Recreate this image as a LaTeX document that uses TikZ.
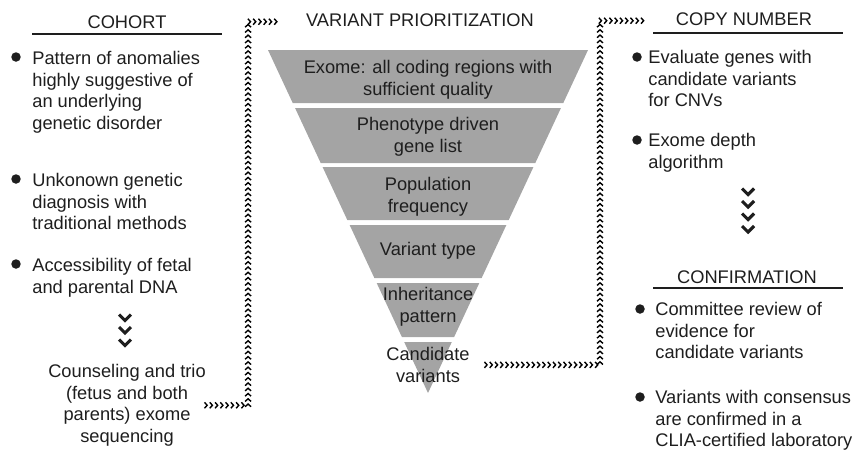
\documentclass[tikz,border=0pt]{standalone}
\usepackage{fontspec}
\setmainfont{Liberation Sans}
\usepackage{tikz}
\usetikzlibrary{arrows.meta}
\usetikzlibrary{decorations.markings}
\definecolor{inkgray}{HTML}{1E1E1E}
\definecolor{funnelgray}{HTML}{A4A4A4}
\definecolor{chevgray}{HTML}{303030}

\begin{document}
\begin{tikzpicture}
    [
    x=0.02cm, y=-0.02cm,
    every node/.style = {font=\fontsize{10.4}{12.3}\selectfont, text=inkgray, inner sep=0pt},
    dot/.style = {minimum size=0.19cm, inner sep=0pt, fill=inkgray, circle},
    item/.style = {anchor=north west, align=left},
    stage/.style = {anchor=north, align=center},
    title/.style = {anchor=base},
    band/.style = {fill=funnelgray},
    rule/.style = {draw=inkgray, line width=0.6pt},
    bigchev/.style = {draw=inkgray, line width=1.8pt, line join=miter},
    chev/.style = {decorate, draw=chevgray, decoration={markings, mark=between positions 0 and 1 step 3pt with {\arrow{Straight Barb[length=1.5pt,width=3.4pt,line width=0.8pt]}}}}
    ]
\useasboundingbox (0,0) rectangle (857,450);

\node[title] (cohort) at (127,28) {COHORT};
\draw[rule] (32,34) -- (222,34);
\node[dot] (b1) at (16,57) {};
\node[item] (pattern) at (32,51) {Pattern of anomalies\\highly suggestive of\\an underlying\\genetic disorder};
\node[dot] (b2) at (16,179) {};
\node[item] (unknown) at (32,173) {Unkonown genetic\\diagnosis with\\traditional methods};
\node[dot] (b3) at (16,264) {};
\node[item] (access) at (32,258) {Accessibility of fetal\\and parental DNA};
\foreach \y in {318,330.5,343}
    \draw[bigchev] (119,\y-3.5) -- (125,\y+2.5) -- (131,\y-3.5);
\node[stage] (counsel) at (127,364) {Counseling and trio\\(fetus and both\\parents) exome\\sequencing};

\node[title] (vptitle) at (420,26) {VARIANT PRIORITIZATION};
\foreach \ytop/\ybot in {50/103,108/163,167/220,225/278,283/337,342/393}{
    \pgfmathsetmacro\wt{0.46647*(393-\ytop)}
    \pgfmathsetmacro\wb{0.46647*(393-\ybot)}
    \fill[band] (428-\wt,\ytop) -- (428+\wt,\ytop) -- (428+\wb,\ybot) -- (428-\wb,\ybot) -- cycle;
}
\node[stage] (exome) at (428,60) {Exome: all coding regions with\\sufficient quality};
\node[stage] (phenotype) at (428,117) {Phenotype driven\\gene list};
\node[stage] (population) at (428,177) {Population\\frequency};
\node[stage] (vtype) at (428,242) {Variant type};
\node[stage] (inherit) at (428,287) {Inheritance\\pattern};
\node[stage] (candidate) at (428,347) {Candidate\\variants};

\node[title] (copytitle) at (744,25) {COPY NUMBER};
\draw[rule] (653,33) -- (843,33);
\node[dot] (b4) at (637,57) {};
\node[item] (evaluate) at (648,50) {Evaluate genes with\\candidate variants\\for CNVs};
\node[dot] (b5) at (637,140) {};
\node[item] (depth) at (648,133) {Exome depth\\algorithm};
\foreach \y in {192,204.5,217,229.5}
    \draw[bigchev] (742,\y-3.5) -- (748,\y+2.5) -- (754,\y-3.5);
\node[title] (conftitle) at (747,283) {CONFIRMATION};
\draw[rule] (653,288) -- (843,288);
\node[dot] (b6) at (640,309) {};
\node[item] (committee) at (655,302) {Committee review of\\evidence for\\candidate variants};
\node[dot] (b7) at (640,397) {};
\node[item] (consensus) at (655,390) {Variants with consensus\\are confirmed in a\\CLIA-certified laboratory};

\draw[chev] ([xshift=0.04cm]counsel.east) -- ++(40,0) |- ([xshift=-0.46cm,yshift=-0.04cm]vptitle.west);
\draw[chev] ([xshift=0.36cm]candidate.east) -- ++(112,0) |- ([xshift=-0.6cm,yshift=-0.04cm]copytitle.west);
\end{tikzpicture}
\end{document}
